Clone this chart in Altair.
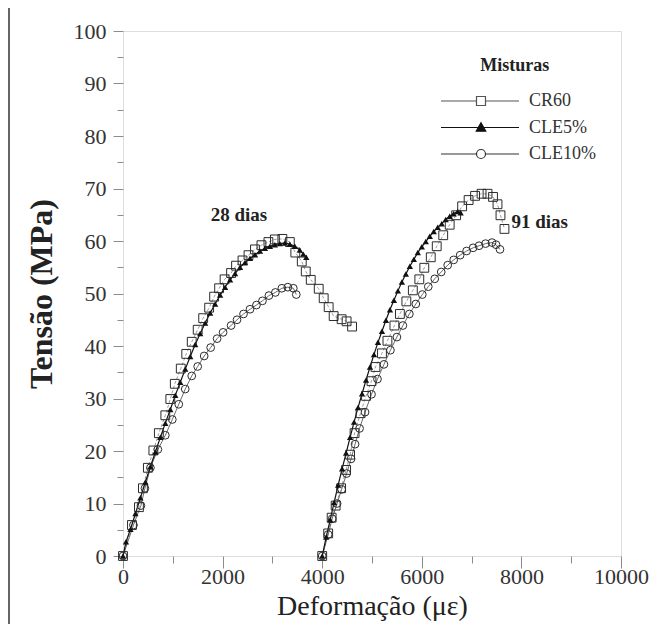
import altair as alt
import pandas as pd

# ---------------- data ----------------
series_names = ["CR60", "CLE5%", "CLE10%"]

# 28 dias
cr60_28_x = [0, 180, 320, 400, 500, 610, 720, 850, 950, 1040, 1160, 1270, 1380, 1500, 1610,
             1730, 1830, 1930, 2040, 2170, 2270, 2400, 2520, 2650, 2780, 2920, 3050, 3200, 3350,
             3460, 3590, 3670, 3770, 3930, 4030, 4130, 4230, 4390, 4490, 4600]
cr60_28_y = [0, 5.9, 9.3, 12.9, 16.8, 20.1, 23.4, 26.8, 29.9, 32.8, 35.7, 38.5, 40.8, 43.1, 45.3,
             47.3, 49.4, 51.0, 52.7, 53.9, 55.3, 56.3, 57.3, 58.4, 59.2, 59.8, 60.3, 60.4, 59.8,
             57.8, 56.1, 54.2, 52.6, 50.9, 49.1, 47.4, 45.7, 45.1, 44.7, 43.7]

cle5_28_x = [0, 60, 150, 250, 350, 450, 550, 650, 750, 850, 950, 1050, 1150, 1250, 1350, 1450,
             1550, 1650, 1750, 1850, 1950, 2050, 2150, 2250, 2350, 2450, 2550, 2650, 2750, 2850,
             2950, 3050, 3150, 3250, 3350, 3450, 3550, 3620, 3680]
cle5_28_y = [0, 2.7, 5.1, 8.1, 11.1, 14.1, 17.0, 19.8, 22.6, 25.3, 27.9, 30.6, 33.1, 35.6, 38.0,
             40.3, 42.4, 44.4, 46.3, 48.0, 49.7, 51.2, 52.6, 53.8, 55.0, 55.9, 56.7, 57.4, 58.1,
             58.6, 59.0, 59.3, 59.5, 59.6, 59.4, 59.0, 58.3, 57.5, 56.9]

cle10_28_x = [0, 210, 360, 440, 550, 700, 850, 990, 1120, 1250, 1380, 1500, 1630, 1760, 1890,
              2010, 2170, 2290, 2420, 2550, 2680, 2800, 2930, 3060, 3190, 3310, 3420, 3480]
cle10_28_y = [0, 5.9, 9.6, 12.9, 16.8, 20.3, 23.0, 26.0, 28.9, 31.8, 34.3, 36.1, 38.1, 39.7,
              41.4, 42.6, 43.9, 45.0, 46.1, 47.0, 47.8, 48.6, 49.6, 50.2, 51.0, 51.2, 51.0, 49.8]

# 91 dias
cr60_91_x = [4000, 4120, 4190, 4270, 4380, 4480, 4560, 4650, 4770, 4880, 4990, 5070, 5200, 5310,
             5450, 5560, 5690, 5820, 5950, 6050, 6180, 6300, 6430, 6560, 6690, 6810, 6940, 7070,
             7200, 7320, 7430, 7520, 7580, 7660]
cr60_91_y = [0, 4.3, 7.3, 9.6, 12.9, 16.4, 19.3, 23.4, 27.2, 30.5, 33.3, 36.0, 38.6, 41.0, 43.9,
             46.1, 48.5, 50.6, 52.7, 54.9, 56.9, 59.0, 61.1, 63.1, 64.9, 66.6, 67.8, 68.6, 69.0,
             69.0, 68.4, 67.0, 64.9, 62.3]

cle5_91_x = [4000, 4080, 4160, 4240, 4320, 4400, 4480, 4560, 4640, 4720, 4800, 4880, 4960, 5040,
             5120, 5200, 5280, 5360, 5440, 5520, 5600, 5680, 5760, 5840, 5920, 6000, 6080, 6160,
             6240, 6320, 6400, 6480, 6560, 6640, 6720, 6780]
cle5_91_y = [0, 3.6, 6.9, 10.2, 13.5, 16.6, 19.6, 22.6, 25.5, 28.3, 30.9, 33.5, 36.0, 38.4, 40.7,
             42.8, 44.9, 46.9, 48.7, 50.5, 52.2, 53.7, 55.2, 56.5, 57.8, 58.9, 59.9, 60.9, 61.8,
             62.6, 63.3, 64.1, 64.7, 65.2, 65.6, 65.4]

cle10_91_x = [4000, 4120, 4200, 4300, 4390, 4490, 4580, 4660, 4750, 4860, 4990, 5110, 5240, 5370,
              5500, 5620, 5750, 5880, 6010, 6130, 6260, 6390, 6520, 6640, 6770, 6900, 7030, 7150,
              7280, 7410, 7490, 7570]
cle10_91_y = [0, 4.1, 7.1, 10.0, 12.7, 15.7, 18.5, 21.3, 24.3, 27.4, 30.8, 33.7, 36.5, 39.2, 41.7,
              43.9, 46.1, 48.0, 49.8, 51.3, 52.8, 54.1, 55.4, 56.4, 57.3, 58.1, 58.7, 59.1, 59.5,
              59.7, 59.3, 58.4]

# annotations
annot_text = ["28 dias", "91 dias"]
annot_x = [1760, 7800]
annot_y = [65.0, 63.7]
legend_title = "Misturas"
legend_title_x = [7866]
legend_title_y = [93.4]

x_ticks = list(range(0, 10001, 1000))
y_ticks = list(range(0, 101, 5))

# ---------------- build table ----------------
parts = []
for serie, idade, xs, ys in [
    ("CR60", "28", cr60_28_x, cr60_28_y), ("CLE5%", "28", cle5_28_x, cle5_28_y),
    ("CLE10%", "28", cle10_28_x, cle10_28_y), ("CR60", "91", cr60_91_x, cr60_91_y),
    ("CLE5%", "91", cle5_91_x, cle5_91_y), ("CLE10%", "91", cle10_91_x, cle10_91_y),
]:
    parts.append(pd.DataFrame({"serie": serie, "idade": idade, "deformacao": xs, "tensao": ys}))
df = pd.concat(parts, ignore_index=True)

FONT = "Liberation Serif"
TXT = "#333333"

x_scale = alt.Scale(domain=[0, 10000], nice=False, zero=False)
y_scale = alt.Scale(domain=[0, 100], nice=False, zero=False)

x_axis = alt.Axis(
    values=x_ticks, format="d",
    labelExpr="datum.value % 2000 === 0 ? datum.label : ''",
    tickSize={"condition": {"test": "datum.value % 2000 === 0", "value": 12}, "value": 7},
    tickColor="#8c8c8c", tickWidth=1, domain=False, grid=False,
    labelFont=FONT, labelFontSize=22, labelColor=TXT, labelPadding=-2,
    labelFlush=False, labelOverlap=False, labelBound=False,
    title="Deformação (με)", titleFont=FONT, titleFontSize=28, titleFontWeight="normal",
    titleColor="#222222", titlePadding=5,
)
y_axis = alt.Axis(
    values=y_ticks, format="d",
    labelExpr="datum.value % 10 === 0 ? datum.label : ''",
    tickSize={"condition": {"test": "datum.value % 10 === 0", "value": 10}, "value": 6},
    tickColor="#8c8c8c", tickWidth=1, domain=False, grid=False,
    labelFont=FONT, labelFontSize=22, labelColor=TXT, labelPadding=7,
    labelOverlap=False, labelBound=False,
    title="Tensão (MPa)", titleFont=FONT, titleFontSize=32, titleFontWeight="bold",
    titleColor="#222222", titlePadding=15,
)

X = alt.X("deformacao:Q", scale=x_scale, axis=x_axis)
Y = alt.Y("tensao:Q", scale=y_scale, axis=y_axis)

base = alt.Chart(df)


def serie(name):
    return base.transform_filter(alt.datum.serie == name)


line_cr60 = serie("CR60").mark_line(color="#9a9a9a", strokeWidth=1, strokeDash=[3, 2]).encode(
    x=X, y=Y, detail="idade:N", order="deformacao:Q")
line_cle10 = serie("CLE10%").mark_line(color="#444444", strokeWidth=0.8).encode(
    x=X, y=Y, detail="idade:N", order="deformacao:Q")
line_cle5 = serie("CLE5%").mark_line(color="#111111", strokeWidth=1.2).encode(
    x=X, y=Y, detail="idade:N", order="deformacao:Q")

pts_cr60 = serie("CR60").mark_point(shape="square", filled=False, color="#2b2b2b", size=78,
                                     strokeWidth=1, opacity=1).encode(x=X, y=Y)
pts_cle10 = serie("CLE10%").mark_point(shape="circle", filled=False, color="#2b2b2b", size=60,
                                        strokeWidth=1, opacity=1).encode(x=X, y=Y)
pts_cle5 = serie("CLE5%").mark_point(shape="triangle-up", filled=True, color="#111111", size=40,
                                      opacity=1).encode(x=X, y=Y)

# legend: line + marker glyphs as symbol paths
legend_paths = [
    "M-15,0H-7.9M-6.1,0H0.6M-7.9,-0.9H-6.1V0.9H-7.9Z",
    "M-15,0H0.6M-7,-0.95L-6.05,0.75H-7.95Z",
    "M-15,0H-7.9M-6.1,0H0.6M-6.1,0A0.9,0.9 0 1,1 -7.9,0A0.9,0.9 0 1,1 -6.1,0Z",
]
leg = alt.Legend(
    title=None, orient="none", legendX=384, legendY=61, padding=0,
    symbolSize=100, symbolStrokeWidth=1.2, rowPadding=8.5,
    labelFont=FONT, labelFontSize=18, labelColor=TXT, labelOffset=4,
)
legend_layer = base.transform_filter("false").mark_point(size=100, opacity=1, strokeWidth=1.2).encode(
    x=X, y=Y,
    shape=alt.Shape("serie:N", scale=alt.Scale(domain=series_names, range=legend_paths), legend=leg),
    fill=alt.Fill("serie:N", scale=alt.Scale(domain=series_names,
                                              range=["transparent", "#111111", "transparent"]), legend=leg),
    stroke=alt.Stroke("serie:N", scale=alt.Scale(domain=series_names,
                                                  range=["#555555", "#111111", "#333333"]), legend=leg),
)

annot_df = pd.DataFrame({"t": annot_text, "deformacao": annot_x, "tensao": annot_y})
annot = alt.Chart(annot_df).mark_text(font=FONT, fontSize=19, fontWeight="bold", color="#222222",
                                      align="left", baseline="middle").encode(x=X, y=Y, text="t:N")

ltitle_df = pd.DataFrame({"t": [legend_title], "deformacao": legend_title_x, "tensao": legend_title_y})
ltitle = alt.Chart(ltitle_df).mark_text(font=FONT, fontSize=18, fontWeight="bold", color="#222222",
                                        align="center", baseline="middle").encode(x=X, y=Y, text="t:N")

border = alt.Chart(pd.DataFrame({"a": [0]})).mark_rule(color="#666666", strokeWidth=2).encode(
    x=alt.value(-114), y=alt.value(-23), y2=alt.value(600))

chart = alt.layer(
    line_cr60, line_cle10, line_cle5, pts_cr60, pts_cle10, pts_cle5,
    legend_layer, annot, ltitle, border,
).properties(
    width=498, height=525,
    autosize=alt.AutoSizeParams(type="none"),
    padding={"left": 115, "top": 23, "right": 31, "bottom": 68},
).configure_view(stroke="#8c8c8c", strokeWidth=1).configure(font=FONT)

chart.save("out.html", embed_options={"renderer": "svg", "actions": False})
